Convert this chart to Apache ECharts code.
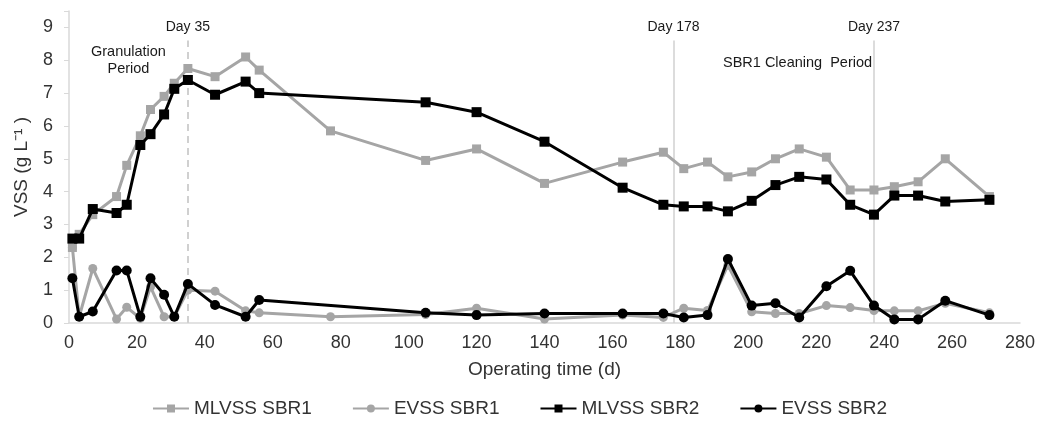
<!DOCTYPE html>
<html>
<head>
<meta charset="utf-8">
<title>VSS in SBR1 and SBR2</title>
<script src="https://cdn.jsdelivr.net/npm/echarts@6/dist/echarts.min.js"></script>
<style>
  html, body { margin: 0; padding: 0; background: #ffffff; }
  #chart { width: 1039px; height: 426px; }
</style>
</head>
<body>
<div id="chart"></div>
<script>
// Sampling days (d) and concentrations (g/L) for each series
const mlvss1Days = [1, 3, 7, 14, 17, 21, 24, 28, 31, 35, 43, 52, 56, 77, 105, 120, 140, 163, 175, 181, 188, 194, 201, 208, 215, 223, 230, 237, 243, 250, 258, 271];
const mlvss1Vals = [2.3, 2.7, 3.3, 3.85, 4.8, 5.7, 6.5, 6.9, 7.3, 7.75, 7.5, 8.1, 7.7, 5.85, 4.95, 5.3, 4.25, 4.9, 5.2, 4.7, 4.9, 4.45, 4.6, 5.0, 5.3, 5.05, 4.05, 4.05, 4.15, 4.3, 5.0, 3.85];

const evss1Days = [1, 3, 7, 14, 17, 21, 24, 28, 31, 35, 43, 52, 56, 77, 105, 120, 140, 163, 175, 181, 188, 194, 201, 208, 215, 223, 230, 237, 243, 250, 258, 271];
const evss1Vals = [2.3, 0.19, 1.66, 0.12, 0.48, 0.14, 1.1, 0.19, 0.19, 1.0, 0.97, 0.37, 0.31, 0.19, 0.26, 0.45, 0.12, 0.24, 0.17, 0.45, 0.38, 1.76, 0.34, 0.29, 0.29, 0.53, 0.47, 0.38, 0.37, 0.37, 0.6, 0.31];

const mlvss2Days = [1, 3, 7, 14, 17, 21, 24, 28, 31, 35, 43, 52, 56, 105, 120, 140, 163, 175, 181, 188, 194, 201, 208, 215, 223, 230, 237, 243, 250, 258, 271];
const mlvss2Vals = [2.57, 2.57, 3.47, 3.35, 3.6, 5.42, 5.75, 6.35, 7.13, 7.4, 6.95, 7.35, 7.0, 6.72, 6.42, 5.52, 4.12, 3.6, 3.55, 3.55, 3.4, 3.72, 4.2, 4.45, 4.37, 3.6, 3.3, 3.88, 3.88, 3.7, 3.75];

const evss2Days = [1, 3, 7, 14, 17, 21, 24, 28, 31, 35, 43, 52, 56, 105, 120, 140, 163, 175, 181, 188, 194, 201, 208, 215, 223, 230, 237, 243, 250, 258, 271];
const evss2Vals = [1.36, 0.19, 0.35, 1.6, 1.6, 0.19, 1.36, 0.86, 0.19, 1.19, 0.55, 0.19, 0.7, 0.31, 0.24, 0.29, 0.29, 0.29, 0.17, 0.24, 1.95, 0.53, 0.6, 0.17, 1.12, 1.59, 0.53, 0.11, 0.11, 0.68, 0.24];

const seriesNames = ['MLVSS SBR1', 'EVSS SBR1', 'MLVSS SBR2', 'EVSS SBR2'];

// Operational milestones drawn as vertical reference lines
const milestoneDays = [35, 178, 237];
const milestoneLabels = ['Day 35', 'Day 178', 'Day 237'];
const milestoneDashed = [true, false, false];

const xTicks = { min: 0, max: 280, step: 20 };
const yTicks = { min: 0, max: 9.5, step: 1 };

const FONT = '"Liberation Sans", Arial, sans-serif';
const GREY = '#a5a5a5';
const BLACK = '#000000';
const TEXT = '#333333';
const AXIS = '#d9d9d9';

function pairs(days, vals) {
  return days.map((d, i) => [d, vals[i]]);
}

const markTop = 8.6;
const milestoneLines = milestoneDays.map((d, i) => [
  {
    coord: [d, 0],
    lineStyle: { type: milestoneDashed[i] ? [7, 5] : 'solid', color: '#d0d0d0', width: milestoneDashed[i] ? 2 : 1.5 }
  },
  { coord: [d, markTop], label: { formatter: milestoneLabels[i] } }
]);

function lineSeries(name, days, vals, color, symbol, size, z, extra) {
  return Object.assign({
    name: name,
    type: 'line',
    data: pairs(days, vals),
    symbol: symbol,
    symbolSize: size,
    showSymbol: true,
    z: z,
    lineStyle: { color: color, width: 3 },
    itemStyle: { color: color, borderWidth: 0 },
    emphasis: { disabled: true },
    animation: false
  }, extra || {});
}

const chart = echarts.init(document.getElementById('chart'), null, { renderer: 'canvas' });

const option = {
  backgroundColor: '#ffffff',
  textStyle: { fontFamily: FONT },
  animation: false,
  grid: { left: 69, right: 19, top: 11, bottom: 103, containLabel: false },
  legend: {
    bottom: 3,
    left: 'center',
    itemWidth: 36,
    itemHeight: 10,
    itemGap: 40,
    textStyle: { fontFamily: FONT, fontSize: 19, color: TEXT },
    data: seriesNames
  },
  xAxis: {
    type: 'value',
    min: xTicks.min,
    max: xTicks.max,
    interval: xTicks.step,
    name: 'Operating time (d)',
    nameLocation: 'middle',
    nameGap: 37,
    nameTextStyle: { fontFamily: FONT, fontSize: 19, color: TEXT },
    axisLine: { show: true, lineStyle: { color: AXIS, width: 1.5 } },
    axisTick: { show: false },
    splitLine: { show: false },
    axisLabel: { fontFamily: FONT, fontSize: 18, color: TEXT, margin: 11 }
  },
  yAxis: {
    type: 'value',
    min: yTicks.min,
    max: yTicks.max,
    interval: yTicks.step,
    name: 'VSS (g L\u207B\u00B9 )',
    nameLocation: 'middle',
    nameGap: 38,
    nameTextStyle: { fontFamily: FONT, fontSize: 19, color: TEXT },
    axisLine: { show: true, lineStyle: { color: AXIS, width: 1.5 } },
    axisTick: { show: true, inside: false, length: 5, lineStyle: { color: AXIS, width: 1 } },
    splitLine: { show: false },
    axisLabel: {
      fontFamily: FONT, fontSize: 18, color: TEXT, margin: 16,
      formatter: v => (Number.isInteger(v) ? String(v) : '')
    }
  },
  series: [
    lineSeries(seriesNames[0], mlvss1Days, mlvss1Vals, GREY, 'rect', 9, 2, {
      markLine: {
        silent: true,
        symbol: ['none', 'none'],
        animation: false,
        label: { show: true, position: 'end', distance: 6, fontFamily: FONT, fontSize: 14, color: '#1a1a1a' },
        data: milestoneLines,
        z: 1
      }
    }),
    lineSeries(seriesNames[1], evss1Days, evss1Vals, GREY, 'circle', 9, 3),
    lineSeries(seriesNames[2], mlvss2Days, mlvss2Vals, BLACK, 'rect', 10, 4),
    lineSeries(seriesNames[3], evss2Days, evss2Vals, BLACK, 'circle', 10, 5)
  ]
};

chart.setOption(option);

// Period captions placed in data coordinates
const captions = [
  { lines: ['Granulation', 'Period'], day: 17.5, value: 8.0 },
  { lines: ['SBR1 Cleaning  Period'], day: 214.5, value: 7.93 }
];
chart.setOption({
  graphic: captions.map(c => {
    const p = chart.convertToPixel({ gridIndex: 0 }, [c.day, c.value]);
    return {
      type: 'text',
      x: p[0],
      y: p[1],
      silent: true,
      style: {
        text: c.lines.join('\n'),
        fontFamily: FONT,
        fontSize: 14.5,
        lineHeight: 17,
        fill: '#1a1a1a',
        align: 'center',
        verticalAlign: 'middle'
      }
    };
  })
});
</script>
</body>
</html>
